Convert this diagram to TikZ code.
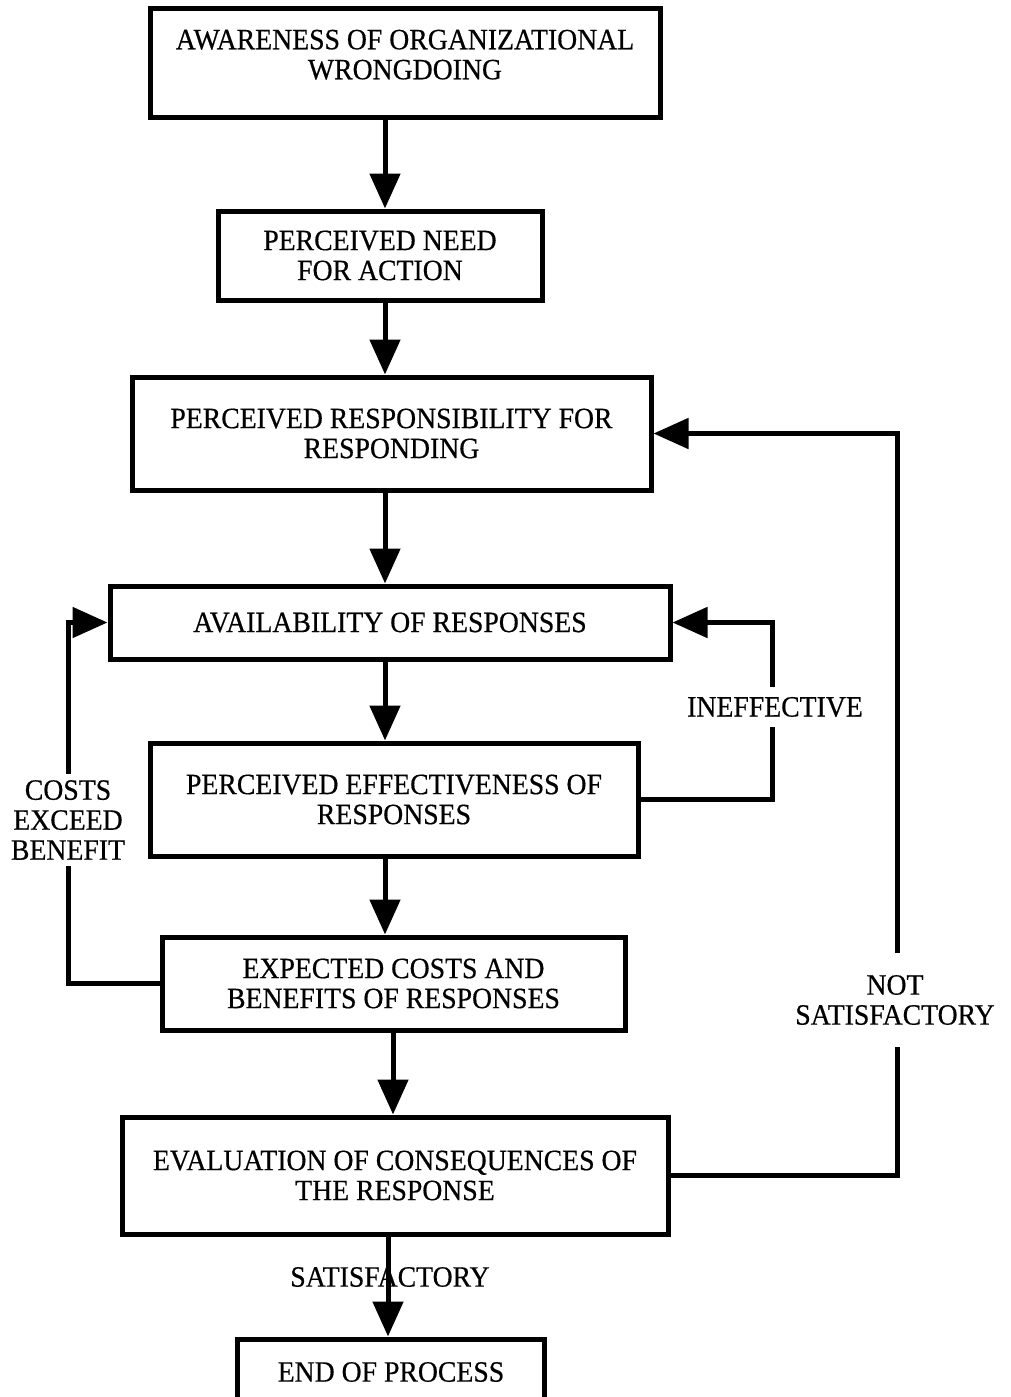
\documentclass[tikz,border=0pt]{standalone}
\usepackage{fontspec}
\setmainfont{Liberation Serif}[FakeStretch=0.94, FakeBold=0.5]
\usetikzlibrary{arrows.meta}
\begin{document}
\begin{tikzpicture}[x=1pt,y=-1pt,
  box/.style={draw, line width=5pt, align=center, inner sep=0pt,
    font=\fontsize{29.5}{30}\selectfont},
  lbl/.style={align=center, inner sep=2pt, font=\fontsize{29.5}{30}\selectfont},
  flow/.style={line width=5pt, -{Triangle[length=35pt,width=30pt]}},
]
\useasboundingbox (0,0) rectangle (1011,1397);

% process steps
\node[box, minimum width=510, minimum height=108] (a1) at (405,63)
  {AWARENESS OF ORGANIZATIONAL\\WRONGDOING\\[-13pt]};
\node[box, minimum width=324, minimum height=89] (a2) at (380,255.5)
  {PERCEIVED NEED\\FOR ACTION};
\node[box, minimum width=519, minimum height=113] (a3) at (391.5,433.5)
  {PERCEIVED RESPONSIBILITY FOR\\RESPONDING};
\node[box, minimum width=560, minimum height=73] (a4) at (390,622.5)
  {AVAILABILITY OF RESPONSES};
\node[box, minimum width=488, minimum height=113] (a5) at (394,799.5)
  {PERCEIVED EFFECTIVENESS OF\\RESPONSES};
\node[box, minimum width=463, minimum height=93] (a6) at (393.5,983.5)
  {EXPECTED COSTS AND\\BENEFITS OF RESPONSES};
\node[box, minimum width=546, minimum height=117] (a7) at (395,1175.5)
  {EVALUATION OF CONSEQUENCES OF\\THE RESPONSE};
\node[box, minimum width=307, minimum height=66] (a8) at (391,1372)
  {END OF PROCESS};

% vertical guide lines for the main flow and the loops
\coordinate (s1) at (385,0);
\coordinate (s6) at (393,0);
\coordinate (s7) at (388,0);
\coordinate (r1) at (772,0);
\coordinate (r2) at (897,0);
\coordinate (l1) at (68,0);

% main flow
\draw[flow] (a1.south -| s1) -- (a2.north -| s1);
\draw[flow] (a2.south -| s1) -- (a3.north -| s1);
\draw[flow] (a3.south -| s1) -- (a4.north -| s1);
\draw[flow] (a4.south -| s1) -- (a5.north -| s1);
\draw[flow] (a5.south -| s1) -- (a6.north -| s1);
\draw[flow] (a6.south -| s6) -- (a7.north -| s6);
\draw[flow] (a7.south -| s7) -- (a8.north -| s7);

% feedback loops
\draw[flow] (a5.east) -- (a5.east -| r1) -- (a4.east -| r1) -- (a4.east);
\draw[flow] (a7.east) -- (a7.east -| r2) -- (a3.east -| r2) -- (a3.east);
\draw[flow] (a6.west) -- (a6.west -| l1) -- (a4.west -| l1) -- (a4.west);

% loop labels
\node[lbl, fill=white, inner ysep=10pt] (lineff) at (775,707) {INEFFECTIVE};
\node[lbl, fill=white, inner ysep=22pt] (lnot) at (895,1000) {NOT\\SATISFACTORY};
\node[lbl, fill=white, inner ysep=6pt] (lcost) at (68,820) {COSTS\\EXCEED\\BENEFIT};
\node[lbl] (lsat) at (390,1277) {SATISFACTORY};
\end{tikzpicture}
\end{document}
